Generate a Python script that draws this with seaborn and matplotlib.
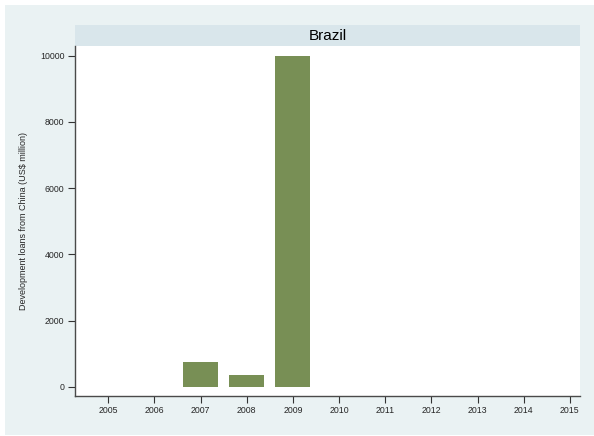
import matplotlib
matplotlib.use("Agg")
import matplotlib.pyplot as plt
from matplotlib.patches import Rectangle
import seaborn as sns
import pandas as pd

# loan amounts by year (US$ million)
years = ["2005", "2006", "2007", "2008", "2009", "2010",
         "2011", "2012", "2013", "2014", "2015"]
loans = [0, 0, 750, 350, 10000, 0, 0, 0, 0, 0, 0]
country = "Brazil"

df = pd.DataFrame({"year": years, "loans": loans})

sns.set_style("white")
plt.rcParams["font.family"] = ["Liberation Sans", "DejaVu Sans"]

W, H = 594, 436
fig = plt.figure(figsize=(W / 100, H / 100), dpi=100)
fig.patch.set_facecolor("white")

# outer light background (behind the axes)
fig.patches.append(Rectangle((5 / W, 1 - 435 / H), 1 - 5 / W, 430 / H,
                             transform=fig.transFigure, facecolor="#eaf2f3",
                             edgecolor="none", zorder=-10))
# title strip
fig.patches.append(Rectangle((75 / W, 1 - 46 / H), 505 / W, 21 / H,
                             transform=fig.transFigure, facecolor="#d9e6eb",
                             edgecolor="none", zorder=-5))
fig.text((75 + 580) / 2 / W, 1 - 35.5 / H, country, ha="center", va="center",
         fontsize=11, color="black")

ax = fig.add_axes([75 / W, 1 - 396 / H, 505 / W, 350 / H])
sns.barplot(data=df, x="year", y="loans", order=years, color="#788f55",
            saturation=1, width=0.76, linewidth=0, ax=ax)

ax.set_xlim(-0.72, 10.22)
ax.set_ylim(-272, 10290)
ax.set_yticks([0, 2000, 4000, 6000, 8000, 10000])
ax.set_facecolor("white")

ax.set_xlabel("")
ax.set_ylabel("Development loans from China (US$ million)", fontsize=6.5)
ax.yaxis.set_label_coords(-46.5 / 505, 0.5)

for side in ["top", "right"]:
    ax.spines[side].set_visible(False)
for side in ["left", "bottom"]:
    ax.spines[side].set_color("#4a4a4a")
    ax.spines[side].set_linewidth(1.0)

ax.tick_params(axis="both", which="major", direction="out", length=5,
               width=0.8, color="#333333", labelsize=6.3, pad=2.5,
               left=True, bottom=True)

fig.savefig("out.png", dpi=100)
